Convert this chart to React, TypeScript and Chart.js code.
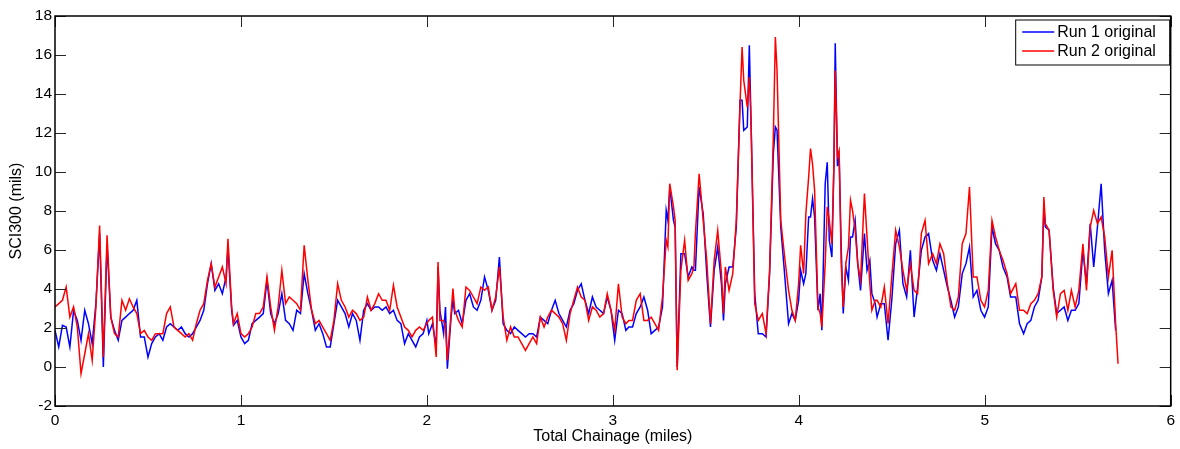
import { useEffect, useRef } from "react";
import { Chart, registerables } from "chart.js";

Chart.register(...registerables);

const FONT = '"Liberation Sans", Arial, Helvetica, sans-serif';

// chainage in miles, shared by both runs
const chainage = [
  0.0, 0.02, 0.04, 0.06, 0.08, 0.1, 0.12, 0.14, 0.16, 0.18, 0.2, 0.22, 0.24, 0.26, 0.28, 0.3, 0.32, 0.34, 0.36, 0.38,
  0.4, 0.42, 0.44, 0.46, 0.48, 0.5, 0.52, 0.54, 0.56, 0.58, 0.6, 0.62, 0.64, 0.66, 0.68, 0.7, 0.72, 0.74, 0.76, 0.78,
  0.8, 0.82, 0.84, 0.86, 0.88, 0.9, 0.92, 0.93, 0.95, 0.96, 0.98, 1.0,
  1.02, 1.04, 1.06, 1.08, 1.1, 1.12, 1.14, 1.16, 1.18, 1.2, 1.22, 1.24, 1.26, 1.28, 1.3, 1.32, 1.34, 1.36, 1.38, 1.4,
  1.42, 1.44, 1.46, 1.48, 1.5, 1.52, 1.54, 1.56, 1.58, 1.6, 1.62, 1.64, 1.66, 1.68, 1.7, 1.72, 1.74, 1.76, 1.78, 1.8,
  1.82, 1.84, 1.86, 1.88, 1.9, 1.92, 1.94, 1.96, 1.98, 2.0,
  2.01, 2.03, 2.05, 2.06, 2.07, 2.09, 2.1, 2.11, 2.13, 2.14, 2.15, 2.17, 2.19, 2.21, 2.23, 2.25, 2.27, 2.29, 2.31, 2.33,
  2.35, 2.37, 2.39, 2.41, 2.43, 2.45, 2.47, 2.49, 2.51, 2.53, 2.55, 2.57, 2.59, 2.61, 2.63, 2.65, 2.67, 2.69, 2.71, 2.73,
  2.75, 2.77, 2.79, 2.81, 2.83, 2.85, 2.87, 2.89, 2.91, 2.93, 2.95, 2.97, 2.99, 3.01, 3.03, 3.05, 3.07,
  3.086, 3.106, 3.126, 3.147, 3.167, 3.187, 3.206, 3.226, 3.246, 3.267, 3.287, 3.296, 3.306, 3.326, 3.335, 3.346,
  3.366, 3.386, 3.405, 3.425, 3.436, 3.444, 3.464, 3.486, 3.505, 3.525, 3.545, 3.564,
  3.584, 3.595, 3.605, 3.625, 3.645, 3.664, 3.684, 3.695, 3.704, 3.723, 3.734, 3.743, 3.763, 3.782, 3.804, 3.824,
  3.843, 3.863, 3.874, 3.883, 3.903, 3.922,
  3.945, 3.963, 3.981, 3.999, 4.01, 4.026, 4.038, 4.053, 4.063, 4.074, 4.085, 4.103, 4.115, 4.124, 4.142, 4.153,
  4.164, 4.178, 4.189, 4.196, 4.208, 4.217, 4.228, 4.239, 4.253, 4.267, 4.278, 4.289, 4.303, 4.317, 4.332, 4.353,
  4.367, 4.382, 4.393, 4.411,
  4.421, 4.441, 4.46, 4.48, 4.5, 4.521, 4.541, 4.56, 4.58, 4.6, 4.62, 4.639, 4.659, 4.679, 4.698, 4.72, 4.74, 4.759,
  4.779, 4.799, 4.818, 4.838, 4.858, 4.879, 4.899, 4.918, 4.938, 4.958, 4.979, 4.999, 5.019, 5.039, 5.058, 5.078,
  5.098, 5.12, 5.139,
  5.167, 5.187, 5.209, 5.228, 5.248, 5.267, 5.287, 5.307, 5.318, 5.326, 5.346, 5.368, 5.387, 5.407, 5.427, 5.447,
  5.466, 5.486, 5.506, 5.528, 5.547, 5.567, 5.586, 5.606, 5.626, 5.645, 5.665, 5.685, 5.704, 5.717,
];

// SCI300 (mils), run 1
const run1 = [
  1.88, 1.03, 2.14, 2.05, 1.03, 2.91, 2.39, 1.37, 2.91, 2.22, 1.2, 3.25, 6.84, 0.0, 6.32, 2.56, 1.88, 1.37, 2.39, 2.56,
  2.74, 2.91, 3.42, 1.54, 1.54, 0.51, 1.2, 1.54, 1.71, 1.37, 2.05, 2.22, 2.05, 1.88, 2.05, 1.71, 1.54, 1.71, 2.05, 2.39,
  2.91, 4.27, 5.3, 3.93, 4.27, 3.76, 4.62, 6.15, 2.91, 2.14, 2.39, 1.54,
  1.2, 1.37, 2.22, 2.39, 2.56, 2.74, 4.44, 2.74, 2.22, 2.74, 3.76, 2.39, 2.22, 1.88, 2.91, 2.74, 4.79, 3.76, 2.91, 1.88,
  2.22, 1.71, 1.03, 1.03, 2.22, 3.42, 3.08, 2.74, 2.05, 2.74, 2.39, 1.37, 2.91, 3.25, 2.91, 3.08, 3.08, 2.91, 3.08, 2.74,
  2.91, 2.39, 2.22, 1.2, 1.71, 1.37, 1.03, 1.54, 1.71, 2.39,
  1.71, 2.22, 1.03, 5.13, 2.91, 1.71, 3.08, -0.09, 2.56, 3.42, 2.74, 2.91, 2.22, 3.42, 3.76, 3.08, 2.91, 3.42, 4.62, 3.93,
  2.91, 3.42, 5.64, 2.22, 1.88, 1.71, 2.05, 1.88, 1.71, 1.54, 1.71, 1.71, 1.54, 2.56, 2.39, 2.22, 2.91, 3.42, 2.74, 2.39,
  2.05, 2.91, 3.25, 3.93, 4.27, 3.42, 2.74, 3.59, 3.08, 2.91, 2.74, 3.59, 2.91, 1.37, 2.91, 2.74, 1.88,
  2.05, 2.05, 2.74, 3.08, 3.59, 2.91, 1.71, 1.88, 2.05, 3.08, 8.03, 7.52, 9.23, 7.52, 7.18, 0.0,
  5.81, 5.81, 4.62, 5.13, 4.96, 4.96, 9.23, 7.86, 4.79, 2.05, 4.96, 6.15,
  4.27, 2.39, 4.27, 5.13, 5.13, 7.18, 13.68, 13.68, 12.14, 12.31, 16.5, 12.65, 3.76, 1.71, 1.71, 1.54,
  4.79, 10.94, 12.31, 12.14, 7.18, 4.96,
  2.22, 2.74, 2.39, 3.42, 4.96, 4.27, 4.79, 7.69, 7.69, 8.63, 7.69, 2.91, 3.76, 1.88, 9.4, 10.5,
  6.5, 5.64, 10.4, 16.6, 10.3, 10.8, 6.15, 2.74, 5.13, 4.44, 6.67, 6.67, 7.52, 5.3, 3.93, 6.84,
  4.96, 5.47, 3.76, 3.25,
  2.56, 3.25, 3.25, 1.37, 3.42, 6.32, 7.01, 4.27, 3.59, 5.98, 2.56, 4.1, 5.98, 6.67, 6.84, 5.47, 4.96, 5.81,
  4.96, 4.1, 3.42, 2.56, 3.08, 4.79, 5.3, 6.15, 3.59, 3.93, 2.91, 2.56, 3.08, 7.18, 6.32, 5.98,
  5.13, 4.62, 3.59,
  3.59, 2.22, 1.71, 2.22, 2.39, 3.08, 3.42, 4.62, 8.21, 7.18, 7.01, 4.1, 2.74, 2.91, 3.08, 2.39,
  2.91, 2.91, 3.25, 5.98, 4.27, 7.35, 5.13, 7.18, 9.4, 5.98, 3.76, 4.44, 1.88, null,
];

// SCI300 (mils), run 2
const run2 = [
  3.08, 3.25, 3.42, 4.1, 2.56, 3.08, 2.05, -0.34, 0.68, 1.71, 0.34, 3.08, 7.26, 0.51, 6.75, 2.56, 1.71, 1.54, 3.42, 2.91,
  3.5, 3.08, 2.74, 1.71, 1.88, 1.54, 1.37, 1.71, 1.71, 1.71, 2.74, 3.08, 2.05, 1.88, 1.71, 1.54, 1.71, 1.37, 2.22, 2.91,
  3.25, 4.44, 5.3, 4.1, 4.62, 5.13, 4.27, 6.58, 3.08, 2.22, 2.74, 1.71,
  1.54, 1.71, 2.05, 2.74, 2.74, 3.08, 4.62, 3.08, 1.88, 3.08, 4.96, 3.25, 3.59, 3.42, 3.25, 2.91, 6.24, 4.44, 2.91, 2.22,
  2.39, 2.05, 1.71, 1.37, 2.39, 4.27, 3.42, 3.08, 2.56, 2.91, 2.74, 2.39, 2.56, 3.59, 2.91, 3.25, 3.76, 3.42, 3.42, 2.91,
  4.19, 3.08, 2.56, 2.05, 1.88, 1.54, 1.88, 2.05, 1.88, 2.22,
  2.39, 2.56, 0.51, 5.38, 2.39, 2.39, 2.05, 0.34, 2.74, 4.02, 2.91, 2.39, 2.05, 4.1, 3.93, 3.59, 3.25, 4.1, 3.93, 4.1,
  2.91, 3.59, 5.13, 2.56, 1.37, 2.05, 1.54, 1.54, 1.2, 0.85, 1.2, 1.54, 1.2, 2.56, 2.05, 2.56, 2.91, 2.74, 2.56, 2.22,
  1.37, 2.74, 3.42, 4.1, 3.59, 3.42, 2.39, 3.08, 2.91, 2.56, 2.74, 3.76, 2.91, 1.88, 4.27, 2.56, 2.22,
  2.39, 2.39, 3.42, 3.76, 2.39, 2.39, 2.56, 2.22, 1.88, 3.59, 6.5, 6.15, 9.4, 8.21, 7.52, -0.17,
  4.96, 6.5, 4.44, 4.79, 5.13, 6.84, 9.91, 7.52, 5.47, 2.22, 5.47, 7.01,
  4.79, 2.74, 5.13, 3.93, 4.79, 7.52, 13.5, 16.41, 14.7, 13.33, 14.87, 12.65, 3.25, 2.39, 2.74, 1.71,
  4.96, 11.79, 16.92, 15.21, 7.52, 5.81,
  3.93, 2.91, 2.39, 4.27, 6.24, 4.79, 7.86, 9.74, 11.2, 10.4, 9.06, 3.08, 2.74, 2.05, 5.3, 8.21,
  7.52, 6.32, 10.4, 15.2, 10.8, 11.1, 5.3, 3.08, 5.3, 6.15, 8.55, 8.03, 7.01, 5.3, 4.44, 8.89,
  6.67, 4.27, 2.91, 3.42,
  3.42, 3.08, 4.1, 2.22, 4.62, 7.01, 6.15, 4.96, 3.93, 5.3, 3.93, 3.76, 6.84, 7.52, 5.3, 5.81, 5.3, 6.32,
  5.81, 4.27, 3.08, 2.91, 3.59, 6.32, 6.84, 9.23, 4.62, 4.62, 3.42, 3.08, 3.93, 7.52, 6.67, 5.98,
  5.47, 4.79, 3.76,
  4.27, 2.91, 2.91, 2.74, 3.25, 3.42, 3.76, 4.62, 8.72, 7.35, 7.01, 3.93, 2.56, 3.76, 3.93, 2.91,
  3.93, 3.08, 3.93, 6.32, 3.93, 7.18, 8.03, 7.35, 7.69, 6.67, 4.62, 5.98, 2.22, 0.17,
];

const seriesLabels = ["Run 1 original", "Run 2 original"];
const seriesColors = ["#0000ff", "#ff0000"];
const xTicks = { min: 0, max: 6, step: 1 };
const yTicks = { min: -2, max: 18, step: 2 };

// MATLAB style box with inward tick marks on all four sides
const axesBox = {
  id: "axesBox",
  afterDraw(chart: any) {
    const { ctx, chartArea: a, scales } = chart;
    const len = 11;
    ctx.save();
    ctx.strokeStyle = "#262626";
    ctx.lineWidth = 1;
    ctx.beginPath();
    scales.x.ticks.forEach((t: any) => {
      const px = Math.round(scales.x.getPixelForValue(t.value)) + 0.5;
      ctx.moveTo(px, a.bottom);
      ctx.lineTo(px, a.bottom - len);
      ctx.moveTo(px, a.top);
      ctx.lineTo(px, a.top + len);
    });
    scales.y.ticks.forEach((t: any) => {
      const py = Math.round(scales.y.getPixelForValue(t.value)) + 0.5;
      ctx.moveTo(a.left, py);
      ctx.lineTo(a.left + len, py);
      ctx.moveTo(a.right, py);
      ctx.lineTo(a.right - len, py);
    });
    ctx.stroke();
    ctx.strokeStyle = "#000";
    ctx.lineWidth = 1.5;
    ctx.strokeRect(a.left, a.top, a.right - a.left, a.bottom - a.top);
    ctx.restore();
  },
};

// legend box in the top right corner of the axes
const boxLegend = {
  id: "boxLegend",
  afterDraw(chart: any) {
    const { ctx, chartArea: a } = chart;
    const w = 154;
    const h = 45;
    const left = a.right - w - 1.5;
    const top = a.top + 3.5;
    ctx.save();
    ctx.fillStyle = "#fff";
    ctx.fillRect(left, top, w, h);
    ctx.strokeStyle = "#000";
    ctx.lineWidth = 1;
    ctx.strokeRect(left + 0.5, top + 0.5, w, h);
    ctx.font = `16px ${FONT}`;
    ctx.textBaseline = "middle";
    chart.data.datasets.forEach((ds: any, i: number) => {
      const y = top + 12.5 + i * 19;
      ctx.strokeStyle = ds.borderColor;
      ctx.lineWidth = 1.5;
      ctx.beginPath();
      ctx.moveTo(left + 7, y);
      ctx.lineTo(left + 39, y);
      ctx.stroke();
      ctx.fillStyle = "#000";
      ctx.fillText(ds.label, left + 42, y + 0.5);
    });
    ctx.restore();
  },
};

export default function App() {
  const canvasRef = useRef<HTMLCanvasElement>(null);
  const chartRef = useRef<Chart | null>(null);

  useEffect(() => {
    if (!canvasRef.current) return;
    if (chartRef.current) chartRef.current.destroy();

    const datasets = [run1, run2].map((values, i) => ({
      label: seriesLabels[i],
      data: chainage.map((x, j) => ({ x, y: values[j] })),
      borderColor: seriesColors[i],
      backgroundColor: seriesColors[i],
      borderWidth: 1.5,
      pointRadius: 0,
      tension: 0,
      order: 1 - i,
    }));

    chartRef.current = new Chart(canvasRef.current, {
      type: "line",
      data: { datasets },
      options: {
        animation: false,
        responsive: true,
        maintainAspectRatio: false,
        layout: { padding: { top: 16, right: 7, left: 0, bottom: 0 } },
        plugins: { legend: { display: false }, tooltip: { enabled: false } },
        scales: {
          x: {
            type: "linear",
            min: xTicks.min,
            max: xTicks.max,
            grid: { display: false, drawTicks: false },
            border: { display: false },
            ticks: {
              stepSize: xTicks.step,
              color: "#000",
              padding: 5,
              maxRotation: 0,
              font: { family: FONT, size: 15.5 },
            },
            title: {
              display: true,
              text: "Total Chainage (miles)",
              color: "#000",
              font: { family: FONT, size: 16 },
              padding: { top: 0, bottom: 3 },
            },
            afterFit: (s: any) => {
              s.height = 43;
            },
          },
          y: {
            min: yTicks.min,
            max: yTicks.max,
            grid: { display: false, drawTicks: false },
            border: { display: false },
            ticks: {
              stepSize: yTicks.step,
              color: "#000",
              padding: 3,
              font: { family: FONT, size: 15.5 },
            },
            title: {
              display: true,
              text: "SCI300 (mils)",
              color: "#000",
              font: { family: FONT, size: 16 },
              padding: { top: 7, bottom: 0 },
            },
            afterFit: (s: any) => {
              s.width = 55;
            },
          },
        },
      },
      plugins: [axesBox, boxLegend],
    });

    return () => {
      if (chartRef.current) {
        chartRef.current.destroy();
        chartRef.current = null;
      }
    };
  }, []);

  return (
    <div style={{ position: "fixed", left: 0, top: 0, width: 1180, height: 449, background: "#fff" }}>
      <canvas ref={canvasRef} />
    </div>
  );
}
